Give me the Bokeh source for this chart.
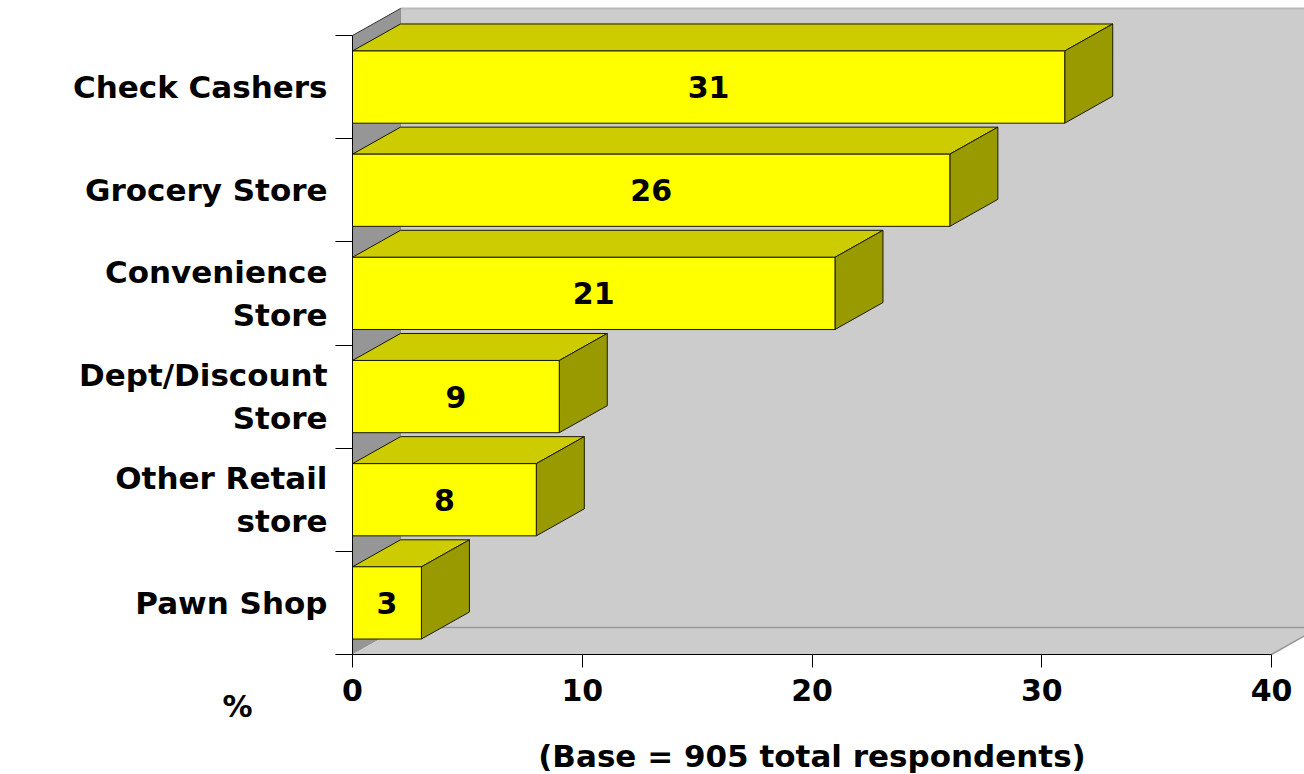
from bokeh.plotting import figure
from bokeh.models import Range1d, LinearAxis, FixedTicker, Label, ColumnDataSource
from bokeh.core.properties import value
from bokeh.embed import file_html
from bokeh.resources import INLINE

# Where people cash their checks (% of respondents)
categories = [
    "Check Cashers",
    "Grocery Store",
    "Convenience\nStore",
    "Dept/Discount\nStore",
    "Other Retail\nstore",
    "Pawn Shop",
]
percent = [31, 26, 21, 9, 8, 3]
x_ticks = [0, 10, 20, 30, 40]
x_title = "(Base = 905 total respondents)"
unit_label = "%"

# ---- layout (pixels) ----
W, H = 1304, 774
ORIGIN_X_PX, ORIGIN_Y_PX = 352, 120   # axis origin, from left / bottom of canvas
AXIS_PX = 919                         # length of the 0..40 axis
BAND_PX = 619 / len(categories)
DEPTH_X_PX, DEPTH_Y_PX = 48, 27
X_MAX = 40

FONT_NAME = "DejaVu Sans"
FSIZE = "30px"
LABEL_FSIZE = "31px"

px_per_x = AXIS_PX / X_MAX
n = len(categories)
dx = DEPTH_X_PX / px_per_x
dy = DEPTH_Y_PX / BAND_PX
bar_h = 0.7

p = figure(
    width=W, height=H, title=None,
    x_range=Range1d(-ORIGIN_X_PX / px_per_x, (W - ORIGIN_X_PX) / px_per_x),
    y_range=Range1d(-ORIGIN_Y_PX / BAND_PX, (H - ORIGIN_Y_PX) / BAND_PX),
    x_axis_type=None, y_axis_type=None,
    toolbar_location=None, output_backend="svg",
    min_border=0,
    outline_line_color=None,
    background_fill_color="white", border_fill_color="white",
)

# ---- 3D box: back wall, side wall, floor ----
p.quad(left=dx, right=X_MAX + dx, bottom=dy, top=n + dy,
       fill_color="#CCCCCC", line_color=None)
p.line([dx, X_MAX + dx], [n + dy, n + dy], line_color="#B8B8B8", line_width=2)
p.line([dx, dx], [dy, n + dy], line_color="#888888", line_width=1)

p.patch([0, dx, dx, 0], [0, dy, n + dy, n],
        fill_color="#969696", line_color=None)
p.line([0, dx], [n, n + dy], line_color="#333333", line_width=1)

p.patch([0, X_MAX, X_MAX + dx, dx], [0, 0, dy, dy],
        fill_color="#CCCCCC", line_color=None)
p.line([dx, X_MAX + dx], [dy, dy], line_color="#999999", line_width=1.5)
p.line([X_MAX, X_MAX + dx], [0, dy], line_color="#999999", line_width=1.5)

# ---- bars ----
y_center = [n - i - 0.5 for i in range(n)]
bottoms = [y - bar_h / 2 for y in y_center]
tops = [y + bar_h / 2 for y in y_center]

top_xs = [[0, v, v + dx, dx] for v in percent]
top_ys = [[t, t, t + dy, t + dy] for t in tops]
side_xs = [[v, v + dx, v + dx, v] for v in percent]
side_ys = [[b, b + dy, t + dy, t] for b, t in zip(bottoms, tops)]

p.patches(top_xs, top_ys, fill_color="#CCCC00", line_color="#1A1A00", line_width=1)
p.patches(side_xs, side_ys, fill_color="#999900", line_color="#1A1A00", line_width=1)

src = ColumnDataSource(dict(
    right=percent, bottom=bottoms, top=tops,
    xmid=[v / 2 for v in percent], y=y_center,
    label=[str(v) for v in percent],
))
p.quad(left=0, right="right", bottom="bottom", top="top", source=src,
       fill_color="#FFFF00", line_color="#1A1A00", line_width=1)
p.text(x="xmid", y="y", text="label", source=src,
       text_align="center", text_baseline="middle",
       text_font=value(FONT_NAME), text_font_style="bold", text_font_size=FSIZE,
       text_color="black")

# ---- axes (anchored at the origin of the box) ----
xaxis = LinearAxis(
    fixed_location=0,
    ticker=FixedTicker(ticks=x_ticks), bounds=(0, X_MAX),
    axis_label=x_title,
    axis_line_color="black", axis_line_width=1,
    major_tick_line_color="black", major_tick_out=13, major_tick_in=0,
    minor_tick_out=0, minor_tick_in=0,
    major_label_standoff=11,
    major_label_text_font=FONT_NAME, major_label_text_font_style="bold",
    major_label_text_font_size=FSIZE, major_label_text_color="black",
    axis_label_standoff=34,
    axis_label_text_font=FONT_NAME, axis_label_text_font_style="bold",
    axis_label_text_font_size=LABEL_FSIZE, axis_label_text_color="black",
)
p.add_layout(xaxis, "below")

yaxis = LinearAxis(
    fixed_location=0,
    ticker=FixedTicker(ticks=y_center, minor_ticks=list(range(n + 1))),
    bounds=(0, n),
    major_label_overrides={y: c for y, c in zip(y_center, categories)},
    axis_line_color="black", axis_line_width=1,
    major_tick_out=0, major_tick_in=0,
    minor_tick_line_color="black", minor_tick_out=17, minor_tick_in=0,
    major_label_standoff=8,
    major_label_text_font=FONT_NAME, major_label_text_font_style="bold",
    major_label_text_font_size=LABEL_FSIZE, major_label_text_color="black",
    major_label_text_line_height=1.2,
)
p.add_layout(yaxis, "left")

p.add_layout(Label(
    x=(237 - ORIGIN_X_PX) / px_per_x, y=-52 / BAND_PX, text=unit_label,
    text_align="center", text_baseline="middle",
    text_font=FONT_NAME, text_font_style="bold", text_font_size=FSIZE,
    text_color="black",
))

open("out.html", "w").write(file_html(p, INLINE))
